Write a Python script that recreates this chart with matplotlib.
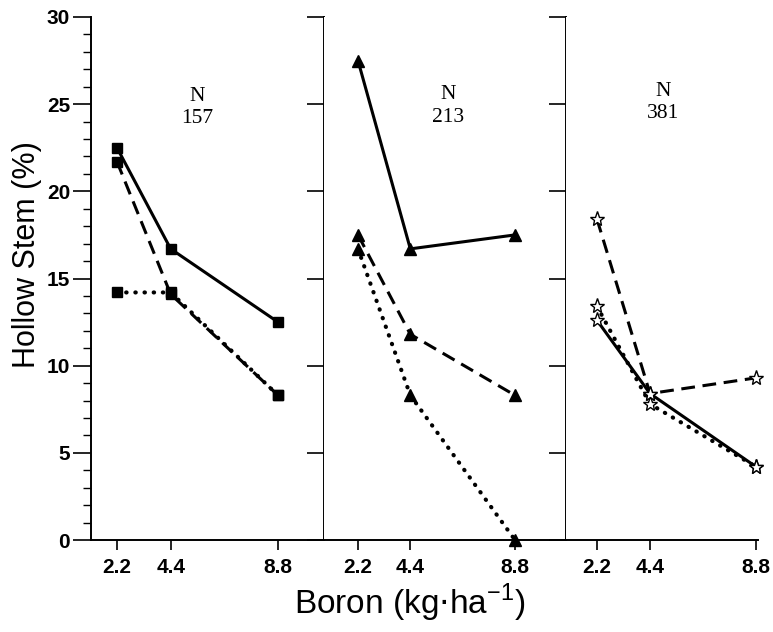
import matplotlib
matplotlib.use("Agg")
import matplotlib.pyplot as plt
from matplotlib.ticker import MultipleLocator

boron = [2.2, 4.4, 8.8]
panels = ["157", "213", "381"]
# N 157 (squares)
n157_solid = [22.5, 16.7, 12.5]
n157_dashed = [21.7, 14.1, 8.3]
n157_dotted = [14.2, 14.2, 8.3]
# N 213 (triangles)
n213_solid = [27.5, 16.7, 17.5]
n213_dashed = [17.5, 11.8, 8.3]
n213_dotted = [16.7, 8.3, 0.0]
# N 381 (stars)
n381_solid = [12.6, 8.4, 4.2]
n381_dashed = [18.4, 8.4, 9.3]
n381_dotted = [13.4, 7.8, 4.2]

W, H = 773, 632
fig = plt.figure(figsize=(W / 100, H / 100), dpi=100)

sans = ['Liberation Sans', 'DejaVu Sans']
serif = ['Liberation Serif', 'DejaVu Serif']

def fx(px):
    return px / W

bottom = 1 - 540 / H
height = (540 - 17) / H

pos = [(91, 324, (1.134, 10.686)),
       (324, 566, (0.771, 10.944)),
       (566, 758, (0.913, 8.883))]

data = [
    (n157_solid, n157_dashed, n157_dotted, 's', 6.5, 'k'),
    (n213_solid, n213_dashed, n213_dotted, '^', 8, 'k'),
    (n381_solid, n381_dashed, n381_dotted, '*', 11, 'white'),
]
label_pos = [(5.5, 24.8), (5.98, 24.9), (4.95, 25.1)]

dashed = (0, (4.5, 2.5))
dotted = (0, (0.1, 2.1))

axes = []
for i, ((l, r, xl), (s, d, o, mk, ms, mfc), lp, nm) in enumerate(zip(pos, data, label_pos, panels)):
    ax = fig.add_axes([fx(l), bottom, fx(r - l), height])
    axes.append(ax)
    ax.set_xlim(*xl)
    ax.set_ylim(0, 30)
    for ys, ls in ((o, dotted), (d, dashed), (s, '-')):
        ax.plot(boron, ys, linestyle=ls, color='k',
                lw=3.0 if ls is dotted else 2.2,
                dash_capstyle='round' if ls is dotted else 'butt',
                marker=mk, markersize=ms, markerfacecolor=mfc,
                markeredgecolor='k', markeredgewidth=1.0, clip_on=False)
    ax.text(lp[0], lp[1], "N\n" + nm, ha='center', va='center',
            fontsize=15.5, family=serif, linespacing=1.25)
    ax.set_xticks(boron)
    ax.set_xticklabels(["2.2", "4.4", "8.8"], fontsize=15, fontweight='bold', family=sans)
    ax.tick_params(axis='x', direction='out', length=7, width=1.2, pad=6)
    ax.spines['top'].set_visible(False)
    for sp in ax.spines.values():
        sp.set_linewidth(1.4)
    if i == 0:
        ax.yaxis.set_major_locator(MultipleLocator(5))
        ax.yaxis.set_minor_locator(MultipleLocator(1))
        ax.tick_params(axis='y', which='major', direction='out', length=13, width=1.2,
                       left=True, right=False, labelsize=15, pad=2)
        ax.tick_params(axis='y', which='minor', direction='out', length=6, width=1.0,
                       left=True, right=False)
        for t in ax.get_yticklabels():
            t.set_fontweight('bold')
            t.set_family(sans)
        ax2 = ax.twinx()
        ax2.set_ylim(0, 30)
        ax2.yaxis.set_major_locator(MultipleLocator(5))
        ax2.tick_params(axis='y', direction='in', length=12, width=1.2, labelright=False)
        for sp in ax2.spines.values():
            sp.set_visible(False)
        ax.spines['right'].set_visible(True)
    elif i == 1:
        ax.spines['left'].set_visible(False)
        ax.yaxis.set_major_locator(MultipleLocator(5))
        ax.yaxis.tick_right()
        ax.tick_params(axis='y', direction='in', length=12, width=1.2,
                       labelright=False, right=True, left=False)
    else:
        ax.spines['left'].set_visible(False)
        ax.spines['right'].set_visible(False)
        ax.set_yticks([])

fig.text(27 / W, 1 - 255 / H, "Hollow Stem (%)", rotation=90, ha='center', va='center',
         fontsize=22, family=sans)
fig.text(410 / W, 1 - 603 / H, r"Boron (kg$\cdot$ha$^{\mathregular{-1}}$)", ha='center', va='center',
         fontsize=24, family=sans)

fig.savefig("out.png", dpi=100)
